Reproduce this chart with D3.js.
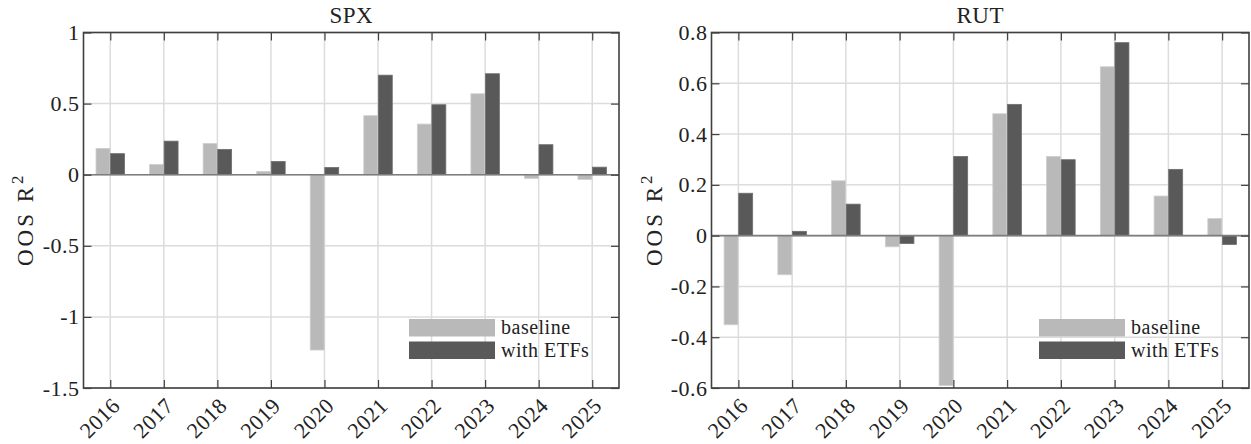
<!DOCTYPE html>
<html>
<head>
<meta charset="utf-8">
<script src="https://cdn.jsdelivr.net/npm/d3@7"></script>
<style>
  html, body { margin: 0; padding: 0; background: #fff; }
  svg { display: block; }
  text { font-family: "Liberation Serif", "Times New Roman", Times, serif; fill: #222; }
</style>
</head>
<body>
<svg id="chart" width="1251" height="444"></svg>
<script>
// Out-of-sample R^2 by year, baseline model vs. model with ETF predictors
const years = [2016, 2017, 2018, 2019, 2020, 2021, 2022, 2023, 2024, 2025];

const spxBaseline = [0.185, 0.072, 0.220, 0.023, -1.233, 0.415, 0.356, 0.569, -0.026, -0.033];
const spxETF      = [0.148, 0.236, 0.178, 0.093,  0.051, 0.700, 0.492, 0.710,  0.211,  0.053];

const rutBaseline = [-0.351, -0.154, 0.216, -0.044, -0.590, 0.480, 0.312, 0.665, 0.156,  0.067];
const rutETF      = [ 0.167,  0.017, 0.124, -0.031,  0.312, 0.517, 0.299, 0.760, 0.261, -0.035];

const spxTicks = [-1.5, -1, -0.5, 0, 0.5, 1];
const rutTicks = [-0.6, -0.4, -0.2, 0, 0.2, 0.4, 0.6, 0.8];

const seriesNames = ["baseline", "with ETFs"];
const colors = { baseline: "#b9b9b9", etf: "#595959", grid: "#dcdcdc", axis: "#404040", zero: "#7d7d7d" };

const svg = d3.select("#chart");

function drawPanel(cfg) {
  const { left, right, top, bottom, yDomain, yTicks, title, base, etf, yLabelX } = cfg;
  const g = svg.append("g");

  const x = d3.scaleLinear().domain([years[0] - 0.5, years[years.length - 1] + 0.5]).range([left, right]);
  const y = d3.scaleLinear().domain(yDomain).range([bottom, top]);

  // grid
  g.append("g").selectAll("line").data(years).join("line")
    .attr("x1", d => x(d)).attr("x2", d => x(d)).attr("y1", top).attr("y2", bottom)
    .attr("stroke", colors.grid).attr("stroke-width", 1.5);
  g.append("g").selectAll("line").data(yTicks).join("line")
    .attr("x1", left).attr("x2", right).attr("y1", d => y(d)).attr("y2", d => y(d))
    .attr("stroke", colors.grid).attr("stroke-width", 1.5);

  // grouped bars
  const bw = 0.26, gap = 0.006;
  const barData = [];
  years.forEach((yr, i) => {
    barData.push({ x0: yr - gap - bw, v: base[i], fill: colors.baseline, edge: "#cfcfcf" });
    barData.push({ x0: yr + gap, v: etf[i], fill: colors.etf, edge: "#6e6e6e" });
  });
  g.append("g").selectAll("rect").data(barData).join("rect")
    .attr("x", d => x(d.x0))
    .attr("width", d => x(d.x0 + bw) - x(d.x0))
    .attr("y", d => y(Math.max(0, d.v)))
    .attr("height", d => Math.abs(y(d.v) - y(0)))
    .attr("fill", d => d.fill)
    .attr("stroke", d => d.edge).attr("stroke-width", 0.8);

  // zero baseline
  g.append("line").attr("x1", left).attr("x2", right).attr("y1", y(0)).attr("y2", y(0))
    .attr("stroke", colors.zero).attr("stroke-width", 1.6);

  // axes: inward ticks on all four sides
  const tl = 8;
  const yAxisL = d3.axisLeft(y).tickValues(yTicks).tickSize(-tl).tickPadding(4).tickFormat(d => String(d));
  const yAxisR = d3.axisRight(y).tickValues(yTicks).tickSize(-tl).tickFormat("");
  const xAxisB = d3.axisBottom(x).tickValues(years).tickSize(-tl).tickFormat("");
  const xAxisT = d3.axisTop(x).tickValues(years).tickSize(-tl).tickFormat("");

  const ax = [
    g.append("g").attr("transform", `translate(${left},0)`).call(yAxisL),
    g.append("g").attr("transform", `translate(${right},0)`).call(yAxisR),
    g.append("g").attr("transform", `translate(0,${bottom})`).call(xAxisB),
    g.append("g").attr("transform", `translate(0,${top})`).call(xAxisT)
  ];
  ax.forEach(a => {
    a.attr("font-family", null).attr("font-size", null);
    a.select(".domain").remove();
    a.selectAll("line").attr("stroke", colors.axis).attr("stroke-width", 1.2);
  });
  ax[0].selectAll("text").attr("font-size", 22).attr("letter-spacing", 0.5).attr("fill", "#222");

  // axes box
  g.append("rect").attr("x", left).attr("y", top).attr("width", right - left).attr("height", bottom - top)
    .attr("fill", "none").attr("stroke", colors.axis).attr("stroke-width", 1.6);

  // rotated year labels
  g.append("g").selectAll("text").data(years).join("text")
    .attr("transform", d => `translate(${x(d) + 11},${bottom + 19}) rotate(-45)`)
    .attr("text-anchor", "end")
    .attr("font-size", 22).attr("letter-spacing", 0.5)
    .text(d => d);

  // title
  g.append("text").attr("x", (left + right) / 2).attr("y", 23).attr("text-anchor", "middle")
    .attr("font-size", 23).attr("letter-spacing", 0.5).text(title);

  // y label
  const yl = g.append("text")
    .attr("transform", `translate(${yLabelX},${(top + bottom) / 2 + 9}) rotate(-90)`)
    .attr("text-anchor", "middle").attr("font-size", 23).attr("letter-spacing", 3);
  yl.append("tspan").text("OOS R");
  yl.append("tspan").attr("dy", -10).attr("font-size", 17).text("2");

  // legend
  const lgX = right - 210;
  const lgY = [319, 341.5];
  const lgFill = [colors.baseline, colors.etf];
  seriesNames.forEach((name, i) => {
    g.append("rect").attr("x", lgX).attr("y", lgY[i]).attr("width", 86).attr("height", 17.5)
      .attr("fill", lgFill[i]);
    g.append("text").attr("x", lgX + 92).attr("y", lgY[i] + 15).attr("font-size", 20)
      .attr("letter-spacing", 0.5).text(name);
  });
}

drawPanel({ left: 83.5, right: 619, top: 32.5, bottom: 388, yDomain: [-1.5, 1], yTicks: spxTicks,
            title: "SPX", base: spxBaseline, etf: spxETF, yLabelX: 33 });
drawPanel({ left: 711.5, right: 1249, top: 32.5, bottom: 388, yDomain: [-0.6, 0.8], yTicks: rutTicks,
            title: "RUT", base: rutBaseline, etf: rutETF, yLabelX: 662 });
</script>
</body>
</html>
